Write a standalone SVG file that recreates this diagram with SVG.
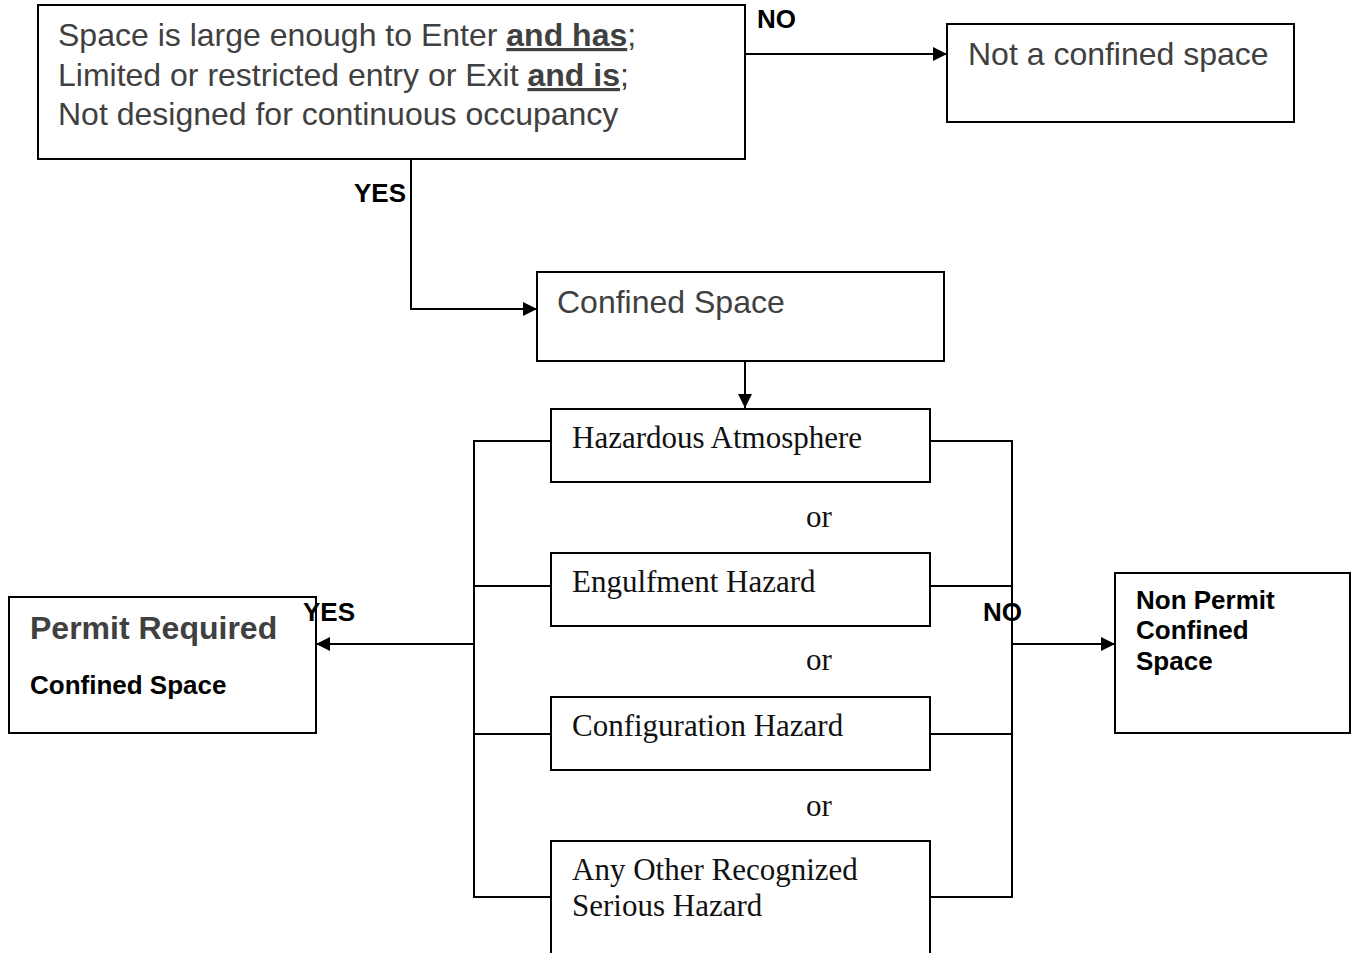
<svg xmlns="http://www.w3.org/2000/svg" width="1352" height="953" viewBox="0 0 1352 953">
<style>
.box{fill:#fff;stroke:#000;stroke-width:2}
.ln{fill:none;stroke:#000;stroke-width:2}
.sans{font-family:"Liberation Sans",Arial,sans-serif;font-size:32px;fill:#404040}
.serif{font-family:"Liberation Serif","Times New Roman",serif;font-size:31px;fill:#111}
.lbl{font-family:"Liberation Sans",Arial,sans-serif;font-size:26px;font-weight:bold;fill:#000}
.u{font-weight:bold;text-decoration:underline}
</style>
<defs>
<marker id="ah" viewBox="0 0 10 10" refX="10" refY="5" markerWidth="15" markerHeight="14" markerUnits="userSpaceOnUse" orient="auto">
<path d="M0,0 L10,5 L0,10 z" fill="#000"/>
</marker>
</defs>
<rect width="1352" height="953" fill="#fff"/>
<g id="connectors">
<path class="ln" d="M745,54 H947" marker-end="url(#ah)"/>
<path class="ln" d="M411,159 V309 H537" marker-end="url(#ah)"/>
<path class="ln" d="M745,339 V408" marker-end="url(#ah)"/>
<path class="ln" d="M551,441 H474 V897 H551 M474,586 H551 M474,734 H551"/>
<path class="ln" d="M930,441 H1012 V897 H930 M930,586 H1012 M930,734 H1012"/>
<path class="ln" d="M474,644 H316" marker-end="url(#ah)"/>
<path class="ln" d="M1012,644 H1115" marker-end="url(#ah)"/>
</g>
<g id="start">
<rect class="box" x="38" y="5" width="707" height="154"/>
<text class="sans" x="58" y="46">Space is large enough to Enter <tspan class="u">and has</tspan>;</text>
<text class="sans" x="58" y="86">Limited or restricted entry or Exit <tspan class="u">and is</tspan>;</text>
<text class="sans" x="58" y="125">Not designed for continuous occupancy</text>
</g>
<g id="not-confined">
<rect class="box" x="947" y="24" width="347" height="98"/>
<text class="sans" x="968" y="65">Not a confined space</text>
</g>
<g id="confined">
<rect class="box" x="537" y="272" width="407" height="89"/>
<text class="sans" x="557" y="313">Confined Space</text>
</g>
<g id="hazard-atmosphere">
<rect class="box" x="551" y="409" width="379" height="73"/>
<text class="serif" x="572" y="448">Hazardous Atmosphere</text>
</g>
<text class="serif" x="806" y="527">or</text>
<g id="engulfment">
<rect class="box" x="551" y="553" width="379" height="73"/>
<text class="serif" x="572" y="592">Engulfment Hazard</text>
</g>
<text class="serif" x="806" y="670">or</text>
<g id="configuration">
<rect class="box" x="551" y="697" width="379" height="73"/>
<text class="serif" x="572" y="736">Configuration Hazard</text>
</g>
<text class="serif" x="806" y="816">or</text>
<g id="other-hazard">
<path class="ln" d="M551,955 V841 H930 V955"/>
<text class="serif" x="572" y="880">Any Other Recognized</text>
<text class="serif" x="572" y="916">Serious Hazard</text>
</g>
<g id="permit-required">
<rect class="box" x="9" y="597" width="307" height="136"/>
<text class="sans" x="30" y="639" font-weight="bold" fill="#505050">Permit Required</text>
<text class="lbl" x="30" y="694">Confined Space</text>
</g>
<g id="non-permit">
<rect class="box" x="1115" y="573" width="235" height="160"/>
<text class="lbl" x="1136" y="609">Non Permit</text>
<text class="lbl" x="1136" y="639">Confined</text>
<text class="lbl" x="1136" y="670">Space</text>
</g>
<g id="labels">
<text class="lbl" x="757" y="28">NO</text>
<text class="lbl" x="354" y="202">YES</text>
<text class="lbl" x="303" y="621">YES</text>
<text class="lbl" x="983" y="621">NO</text>
</g>
</svg>
